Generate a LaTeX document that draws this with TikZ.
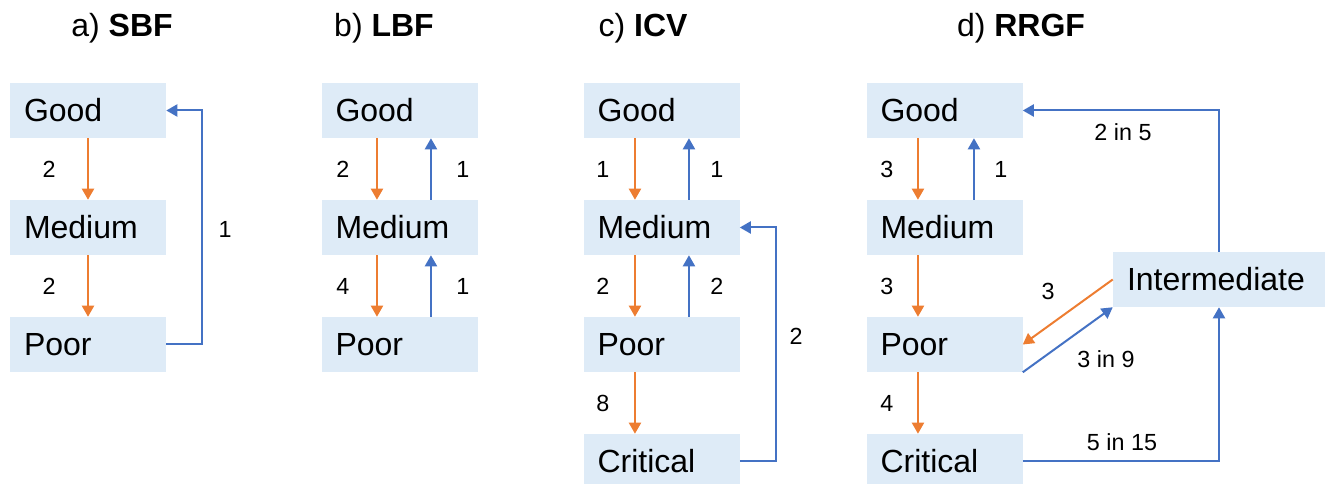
\documentclass[tikz,border=0pt]{standalone}
\usepackage{fontspec}
\setmainfont{Liberation Sans}
\usepackage{tikz}
\usetikzlibrary{arrows.meta, positioning}
\definecolor{boxfill}{HTML}{DEEBF7}
\definecolor{worsecol}{HTML}{ED7D31}
\definecolor{bettercol}{HTML}{4472C4}
\tikzstyle{cond}=[rectangle, fill=boxfill, minimum height=41.25pt, text width=96pt, inner xsep=10.5pt, align=left, font=\fontsize{24}{28}\selectfont]
\tikzstyle{worse}=[-{Triangle[length=8.25pt, width=9pt]}, draw=worsecol, line width=1.5pt]
\tikzstyle{better}=[-{Triangle[length=8.25pt, width=9pt]}, draw=bettercol, line width=1.5pt]
\tikzstyle{lbl}=[inner sep=0pt, font=\fontsize{17.5}{21}\selectfont]
\tikzstyle{heading}=[anchor=base, font=\fontsize{24}{28}\selectfont]

\begin{document}
\begin{tikzpicture}[x=0.75pt, y=-0.75pt, node distance=87.75pt]
          \useasboundingbox (0,0) rectangle (1325,484);
          \clip (0,0) rectangle (1325,484);

          % a) SBF
          \node[heading] (ta) at (122,37) {a) \textbf{SBF}};
          \node[cond] (g1) at (88,110.5) {Good};
          \node[cond] (m1) [below of=g1] {Medium};
          \node[cond] (p1) [below of=m1] {Poor};
          \draw[worse] (g1) -- node[lbl, xshift=-29.25pt] (la1) {2} (m1);
          \draw[worse] (m1) -- node[lbl, xshift=-29.25pt] (la2) {2} (p1);
          \draw[better] (p1.east) -- ++(36,0) |- (g1.east);
          \node[lbl] (la3) at (225,229) {1};

          % b) LBF
          \node[heading] (tb) at (384,37) {b) \textbf{LBF}};
          \node[cond] (g2) at (399.5,110.5) {Good};
          \node[cond] (m2) [below of=g2] {Medium};
          \node[cond] (p2) [below of=m2] {Poor};
          \draw[worse] ([xshift=-16.9pt]g2.south) -- node[lbl, xshift=-25.5pt] (lb1) {2} ([xshift=-16.9pt]m2.north);
          \draw[better] ([xshift=23.6pt]m2.north) -- node[lbl, xshift=24pt] (lb2) {1} ([xshift=23.6pt]g2.south);
          \draw[worse] ([xshift=-16.9pt]m2.south) -- node[lbl, xshift=-25.5pt] (lb3) {4} ([xshift=-16.9pt]p2.north);
          \draw[better] ([xshift=23.6pt]p2.north) -- node[lbl, xshift=24pt] (lb4) {1} ([xshift=23.6pt]m2.south);

          % c) ICV
          \node[heading] (tc) at (643,37) {c) \textbf{ICV}};
          \node[cond] (g3) at (661.5,110.5) {Good};
          \node[cond] (m3) [below of=g3] {Medium};
          \node[cond] (p3) [below of=m3] {Poor};
          \node[cond] (c3) [below of=p3] {Critical};
          \draw[worse] ([xshift=-19.9pt]g3.south) -- node[lbl, xshift=-24pt] (lc1) {1} ([xshift=-19.9pt]m3.north);
          \draw[better] ([xshift=20.6pt]m3.north) -- node[lbl, xshift=21pt] (lc2) {1} ([xshift=20.6pt]g3.south);
          \draw[worse] ([xshift=-19.9pt]m3.south) -- node[lbl, xshift=-24pt] (lc3) {2} ([xshift=-19.9pt]p3.north);
          \draw[better] ([xshift=20.6pt]p3.north) -- node[lbl, xshift=21pt] (lc4) {2} ([xshift=20.6pt]m3.south);
          \draw[worse] ([xshift=-19.9pt]p3.south) -- node[lbl, xshift=-24pt] (lc5) {8} ([xshift=-19.9pt]c3.north);
          \draw[better] (c3.east) -- ++(36,0) |- (m3.east);
          \node[lbl] (lc6) at (796,336) {2};

          % d) RRGF
          \node[heading] (td) at (1021,37) {d) \textbf{RRGF}};
          \node[cond] (g4) at (944.5,110.5) {Good};
          \node[cond] (m4) [below of=g4] {Medium};
          \node[cond] (p4) [below of=m4] {Poor};
          \node[cond] (c4) [below of=p4] {Critical};
          \node[cond, text width=138pt] (im) at (1219,279.5) {Intermediate};
          \draw[worse] ([xshift=-19.9pt]g4.south) -- node[lbl, xshift=-23.25pt] (ld1) {3} ([xshift=-19.9pt]m4.north);
          \draw[better] ([xshift=22.1pt]m4.north) -- node[lbl, xshift=20.25pt] (ld2) {1} ([xshift=22.1pt]g4.south);
          \draw[worse] ([xshift=-19.9pt]m4.south) -- node[lbl, xshift=-23.25pt] (ld3) {3} ([xshift=-19.9pt]p4.north);
          \draw[worse] ([xshift=-19.9pt]p4.south) -- node[lbl, xshift=-23.25pt] (ld4) {4} ([xshift=-19.9pt]c4.north);
          \draw[better] (im.north) |- (g4.east);
          \node[lbl] (ld5) at (1123,132) {2 in 5};
          \draw[worse] (im.west) -- (p4.east);
          \node[lbl] (ld6) at (1048,291) {3};
          \draw[better] (p4.south east) -- (im.south west);
          \node[lbl] (ld7) at (1106,359) {3 in 9};
          \draw[better] (c4.east) -| (im.south);
          \node[lbl] (ld8) at (1122,442) {5 in 15};
        \end{tikzpicture}
\end{document}
